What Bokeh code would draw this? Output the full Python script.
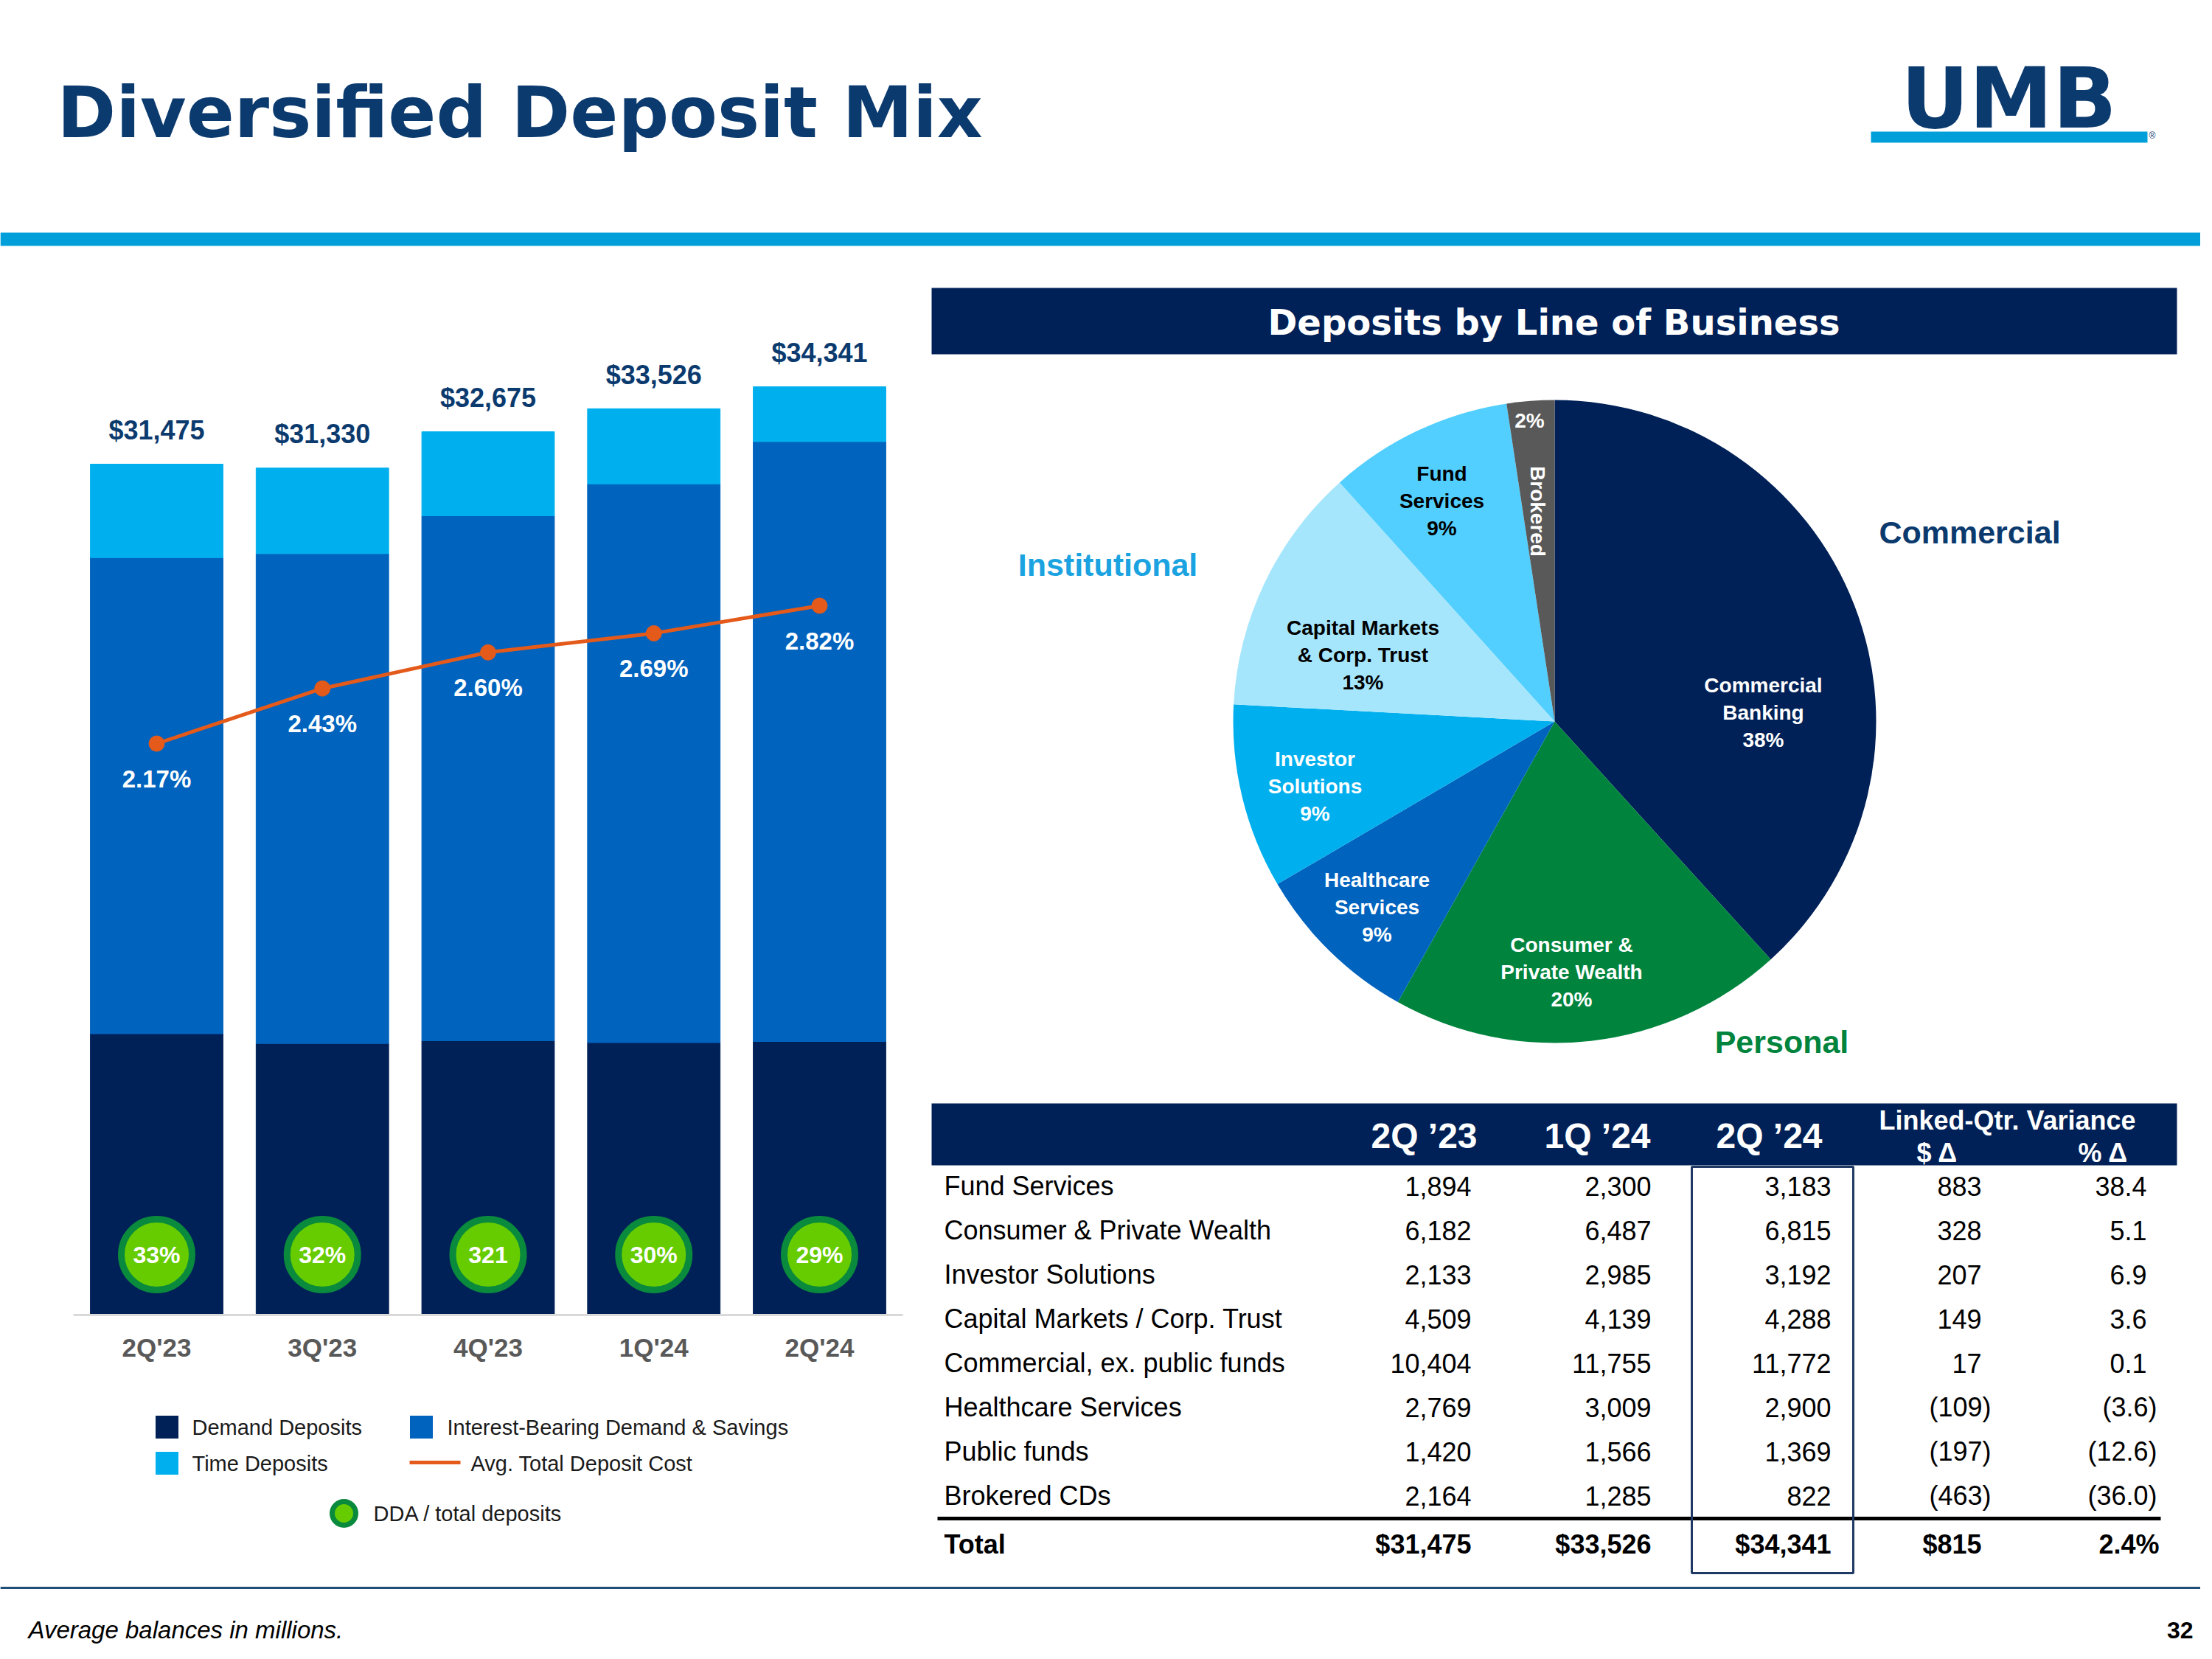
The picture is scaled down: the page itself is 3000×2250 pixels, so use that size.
import math
import numpy as np
from bokeh.plotting import figure
from bokeh.models import Range1d, ColumnDataSource
from bokeh.embed import file_html
from bokeh.resources import INLINE
from bokeh.core.properties import value

# ---------------- data ----------------
quarters = ["2Q'23", "3Q'23", "4Q'23", "1Q'24", "2Q'24"]
demand_deposits = [10387, 10026, 10129, 10058, 10100]
interest_bearing = [17626, 18135, 19434, 20685, 22211]
time_deposits = [3462, 3169, 3112, 2783, 2030]
total_deposits = [31475, 31330, 32675, 33526, 34341]
avg_deposit_cost = [2.17, 2.43, 2.60, 2.69, 2.82]
dda_share_labels = ["33%", "32%", "321", "30%", "29%"]

pie_names = ["Commercial\nBanking", "Consumer &\nPrivate Wealth", "Healthcare\nServices",
             "Investor\nSolutions", "Capital Markets\n& Corp. Trust", "Fund\nServices", "Brokered"]
pie_values = [13141, 6815, 2900, 3192, 4288, 3183, 822]
pie_pct = ["38%", "20%", "9%", "9%", "13%", "9%", "2%"]

table_rows = ["Fund Services", "Consumer & Private Wealth", "Investor Solutions",
              "Capital Markets / Corp. Trust", "Commercial, ex. public funds",
              "Healthcare Services", "Public funds", "Brokered CDs"]
table_cols = ["2Q \u201923", "1Q \u201924", "2Q \u201924"]
q2_23 = [1894, 6182, 2133, 4509, 10404, 2769, 1420, 2164]
q1_24 = [2300, 6487, 2985, 4139, 11755, 3009, 1566, 1285]
q2_24 = [3183, 6815, 3192, 4288, 11772, 2900, 1369, 822]
qoq_change = [883, 328, 207, 149, 17, -109, -197, -463]
qoq_pct = [38.4, 5.1, 6.9, 3.6, 0.1, -3.6, -12.6, -36.0]
total_change = 815
total_pct = 2.4

# ---------------- styles ----------------
NAVY = "#002157"
TITLE_NAVY = "#0B3A6E"
IB_BLUE = "#0063BE"
TIME_BLUE = "#00B0EE"
ORANGE = "#E35A1A"
GREEN_RING = "#0A8A3C"
GREEN_FILL = "#66CC00"
RULE_BLUE = "#009FDA"
FONT = value("Liberation Sans")
HEAVY = value("DejaVu Sans")
PIE_COLORS = [NAVY, "#00843D", IB_BLUE, TIME_BLUE, "#A6E6FD", "#52CFFF", "#595959"]
PIE_TEXT = ["white", "white", "white", "white", "black", "black", "white"]

W, H = 2984, 2234
X0, Y0 = 0, 0


def anchored(a, pa, b, pb, lo, hi):
    s = (b - a) / (pb - pa)
    return Range1d(start=a + (lo - pa) * s, end=a + (hi - pa) * s)


p = figure(width=W, height=H, x_range=Range1d(X0, X0 + W), y_range=Range1d(Y0 + H, Y0),
           x_axis_type=None, y_axis_type=None, output_backend="svg",
           toolbar_location=None, min_border=0)
p.outline_line_color = None
p.background_fill_color = "white"
p.border_fill_color = "white"

p.extra_x_ranges = {"bx": anchored(0, 212, 4, 1111, X0, X0 + W)}
p.extra_y_ranges = {
    "by": anchored(0, 1782, 31475, 629, Y0 + H, Y0),
    "ly": anchored(2.17, 1008, 2.82, 821, Y0 + H, Y0),
    "py": anchored(0, 0, -1, 1, Y0 + H, Y0),
    "tr": anchored(0, 1608, 7, 2028, Y0 + H, Y0),
}

# ---------------- header ----------------
p.text(x=[77], y=[152], text=["Diversified Deposit Mix"], text_font=HEAVY, text_font_style="bold",
       text_font_size="96px", text_color=TITLE_NAVY, text_baseline="middle", text_align="left")
p.text(x=[2724], y=[133], text=["UMB"], text_font=HEAVY, text_font_style="bold",
       text_font_size="114px", text_color=TITLE_NAVY, text_baseline="middle", text_align="center")
p.quad(left=[2537], right=[2912], top=[178], bottom=[193], fill_color=RULE_BLUE, line_color=None)
p.text(x=[2914], y=[183], text=["\u00ae"], text_font=FONT, text_font_size="12px",
       text_color=TITLE_NAVY, text_baseline="middle", text_align="left")
p.quad(left=[0], right=[3000], top=[315], bottom=[333], fill_color=RULE_BLUE, line_color=None)

# ---------------- stacked bars ----------------
idx = np.arange(len(quarters))
src = ColumnDataSource(dict(x=idx, demand=demand_deposits, ib=interest_bearing, tm=time_deposits,
                            total=total_deposits, cost=avg_deposit_cost,
                            tot_lbl=["$" + f"{v:,}" for v in total_deposits],
                            cost_lbl=[f"{v:.2f}%" for v in avg_deposit_cost],
                            dda=dda_share_labels, q=quarters))
p.vbar_stack(["demand", "ib", "tm"], x="x", width=0.8, color=[NAVY, IB_BLUE, TIME_BLUE],
             source=src, x_range_name="bx", y_range_name="by")
p.segment(x0=[99], y0=[1783], x1=[1224], y1=[1783], line_color="#D9D9D9", line_width=3)

p.text(x="x", y="total", text="tot_lbl", source=src, x_range_name="bx", y_range_name="by",
       y_offset=-46, text_font=FONT, text_font_style="bold", text_font_size="36px",
       text_color=TITLE_NAVY, text_align="center", text_baseline="middle")

p.line(x="x", y="cost", source=src, x_range_name="bx", y_range_name="ly",
       line_color=ORANGE, line_width=5)
p.scatter(x="x", y="cost", source=src, x_range_name="bx", y_range_name="ly",
          size=21, fill_color=ORANGE, line_color=ORANGE)
p.text(x="x", y="cost", text="cost_lbl", source=src, x_range_name="bx", y_range_name="ly",
       y_offset=48, text_font=FONT, text_font_style="bold", text_font_size="33px",
       text_color="white", text_align="center", text_baseline="middle")

badge_y = [1701] * len(quarters)
p.circle(x=idx, y=badge_y, x_range_name="bx", radius=48, radius_units="screen",
         fill_color=GREEN_FILL, line_color=GREEN_RING, line_width=9)
p.text(x=idx, y=badge_y, text=dda_share_labels, x_range_name="bx", text_font=FONT,
       text_font_style="bold", text_font_size="32px", text_color="white",
       text_align="center", text_baseline="middle")
p.text(x=idx, y=[1827] * len(quarters), text=quarters, x_range_name="bx", text_font=FONT,
       text_font_style="bold", text_font_size="35px", text_color="#595959",
       text_align="center", text_baseline="middle")

# legend
p.rect(x=[226, 226, 571], y=[1935, 1984, 1935], width=31, height=31,
       fill_color=[NAVY, TIME_BLUE, IB_BLUE], line_color=None)
p.segment(x0=[555], y0=[1983], x1=[624], y1=[1983], line_color=ORANGE, line_width=5)
p.circle(x=[466], y=[2052], radius=16, radius_units="screen", fill_color=GREEN_FILL,
         line_color=GREEN_RING, line_width=7)
p.text(x=[260, 606, 260, 638, 506], y=[1935, 1935, 1984, 1984, 2052],
       text=["Demand Deposits", "Interest-Bearing Demand & Savings", "Time Deposits",
             "Avg. Total Deposit Cost", "DDA / total deposits"],
       text_font=FONT, text_font_size="29px", text_color="#1A1A1A",
       text_align="left", text_baseline="middle")

# ---------------- pie ----------------
p.quad(left=[1263], right=[2952], top=[390], bottom=[480], fill_color=NAVY, line_color=None)
p.text(x=[2107], y=[436], text=["Deposits by Line of Business"], text_font=HEAVY,
       text_font_style="bold", text_font_size="48px", text_color="white",
       text_align="center", text_baseline="middle")

vals = np.array(pie_values, dtype=float)
cum = np.concatenate([[0], np.cumsum(vals)]) / vals.sum()
starts = math.pi / 2 - 2 * math.pi * cum[:-1]
ends = math.pi / 2 - 2 * math.pi * cum[1:]
PIE_CX, PIE_CY, PIE_R = 2108, 978, 436
p.wedge(x=[PIE_CX] * len(vals), y=[-PIE_CY] * len(vals), radius=PIE_R, start_angle=starts,
        end_angle=ends, direction="clock", fill_color=PIE_COLORS, line_color=None,
        y_range_name="py")

pie_label_xy = [(2391, 966), (2131, 1318), (1867, 1230), (1783, 1066), (1848, 888), (1955, 679)]
for i, (lx, ly) in enumerate(pie_label_xy):
    p.text(x=[lx], y=[ly], text=[pie_names[i] + "\n" + pie_pct[i]], text_font=FONT,
           text_font_style="bold", text_font_size="28px", text_color=PIE_TEXT[i],
           text_align="center", text_baseline="middle", text_line_height=1.2)
p.text(x=[2074], y=[570], text=[pie_pct[6]], text_font=FONT, text_font_style="bold",
       text_font_size="28px", text_color="white", text_align="center", text_baseline="middle")
p.text(x=[2085], y=[693], text=[pie_names[6]], angle=-math.pi / 2, text_font=FONT,
       text_font_style="bold", text_font_size="28px", text_color="white",
       text_align="center", text_baseline="middle")

p.text(x=[2671, 1502, 2416], y=[721, 765, 1412], text=["Commercial", "Institutional", "Personal"],
       text_font=FONT, text_font_style="bold", text_font_size="43px",
       text_color=[TITLE_NAVY, "#1AA3E0", "#00843D"], text_align="center", text_baseline="middle")

# ---------------- table ----------------
p.quad(left=[1263], right=[2952], top=[1496], bottom=[1580], fill_color=NAVY, line_color=None)
p.text(x=[1931, 2166, 2399], y=[1540] * 3, text=table_cols, text_font=FONT, text_font_style="bold",
       text_font_size="48px", text_color="white", text_align="center", text_baseline="middle")
p.text(x=[2722, 2627, 2852], y=[1519, 1563, 1563],
       text=["Linked-Qtr. Variance", "$ \u0394", "% \u0394"], text_font=FONT,
       text_font_style="bold", text_font_size="36px", text_color="white",
       text_align="center", text_baseline="middle")

rows = np.arange(len(table_rows))


def fmt_paren(v, dec=0):
    s = f"{abs(v):,.{dec}f}"
    return f"({s})" if v < 0 else s


tsrc = ColumnDataSource(dict(
    r=rows, lbl=table_rows,
    a=[f"{v:,}" for v in q2_23], b=[f"{v:,}" for v in q1_24], c=[f"{v:,}" for v in q2_24],
    d=[fmt_paren(v) for v in qoq_change], e=[fmt_paren(v, 1) for v in qoq_pct],
    dx=[2687 if v >= 0 else 2700 for v in qoq_change],
    ex=[2911 if v >= 0 else 2925 for v in qoq_pct],
))
common = dict(source=tsrc, y_range_name="tr", text_font=FONT, text_font_size="36px",
              text_color="black", text_baseline="middle")
p.text(x=1280, y="r", text="lbl", text_align="left", **common)
p.text(x=1995, y="r", text="a", text_align="right", **common)
p.text(x=2239, y="r", text="b", text_align="right", **common)
p.text(x=2483, y="r", text="c", text_align="right", **common)
p.text(x="dx", y="r", text="d", text_align="right", **common)
p.text(x="ex", y="r", text="e", text_align="right", **common)

p.segment(x0=[1271], y0=[2059], x1=[2930], y1=[2059], line_color="black", line_width=5)
tot_y = 2094
p.text(x=[1280], y=[tot_y], text=["Total"], text_font=FONT, text_font_style="bold",
       text_font_size="36px", text_color="black", text_align="left", text_baseline="middle")
p.text(x=[1995, 2239, 2483, 2687, 2928], y=[tot_y] * 5,
       text=["$" + f"{sum(q2_23):,}", "$" + f"{sum(q1_24):,}", "$" + f"{sum(q2_24):,}",
             "$" + f"{total_change:,}", f"{total_pct:.1f}%"],
       text_font=FONT, text_font_style="bold", text_font_size="36px", text_color="black",
       text_align="right", text_baseline="middle")
p.quad(left=[2294], right=[2513], top=[1582], bottom=[2133], fill_color=None,
       line_color="#1F3864", line_width=3)

# ---------------- footer ----------------
p.segment(x0=[0], y0=[2153], x1=[3000], y1=[2153], line_color="#1F4E79", line_width=3)
p.text(x=[38], y=[2210], text=["Average balances in millions."], text_font=FONT,
       text_font_style="italic", text_font_size="33px", text_color="black",
       text_align="left", text_baseline="middle")
p.text(x=[2974], y=[2210], text=["32"], text_font=FONT, text_font_style="bold",
       text_font_size="32px", text_color="black", text_align="right", text_baseline="middle")

open("out.html", "w").write(file_html(p, INLINE))
